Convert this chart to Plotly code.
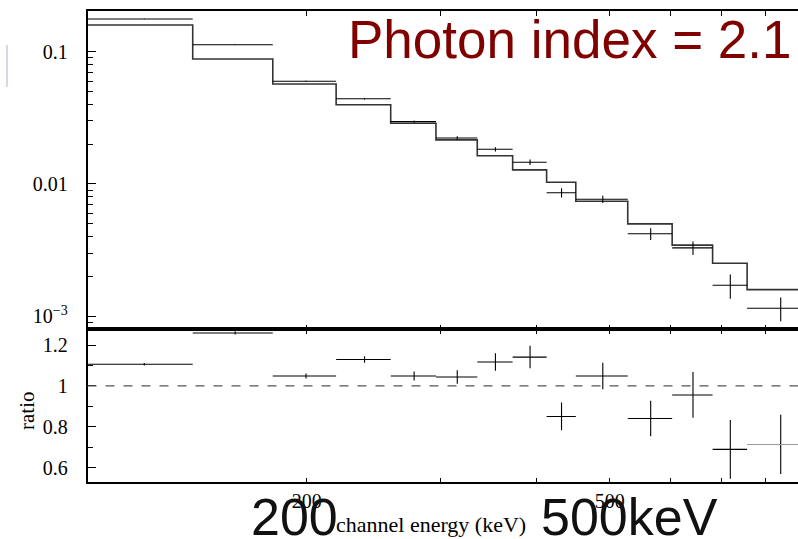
import numpy as np
import plotly.graph_objects as go

# ---------------- data ----------------
bin_lo = [103.1, 141.7, 180.5, 218.6, 257.8, 295.6, 334.9, 372.7, 413.0, 451.1, 527.8, 603.6, 682.1, 757.1]
bin_hi = [141.7, 180.5, 218.6, 257.8, 295.6, 334.9, 372.7, 413.0, 451.1, 527.8, 603.6, 682.1, 757.1, 919.0]
counts = [0.1767, 0.1129, 0.0597, 0.0441, 0.0296, 0.02228, 0.01828, 0.01459, 0.00859, 0.00766, 0.0042, 0.00329, 0.001715, 0.00115]
model = [0.1591, 0.0881, 0.0570, 0.0397, 0.0288, 0.02153, 0.01636, 0.01277, 0.01031, 0.0074, 0.00499, 0.003452, 0.002515, 0.001589]
ratio = [1.106, 1.259, 1.049, 1.129, 1.049, 1.044, 1.117, 1.141, 0.851, 1.049, 0.841, 0.956, 0.690, 0.714]
ratio_err = [0.006, 0.008, 0.012, 0.016, 0.022, 0.033, 0.043, 0.055, 0.068, 0.065, 0.087, 0.112, 0.144, 0.145]

top_tickvals = [0.1, 0.01, 0.001]
top_ticktext = ["0.1", "0.01", "10<sup>−3</sup>"]
top_minor = [k * 10.0 ** d for d in (-4, -3, -2, -1) for k in range(2, 10)]
ratio_tickvals = [0.6, 0.8, 1.0, 1.2]
ratio_ticktext = ["0.6", "0.8", "1", "1.2"]
ratio_minor = [0.7, 0.9, 1.1]
x_tickvals = [200, 300, 400, 500, 600, 700, 800]
x_ticktext = ["200", "", "", "500", "", "", ""]

title_text = "Photon index = 2.1"

# ---------------- derived ----------------
lo = np.array(bin_lo)
hi = np.array(bin_hi)
cen = (lo + hi) / 2
half = (hi - lo) / 2
cts = np.array(counts)
rat = np.array(ratio)
rerr = np.array(ratio_err)
cts_err = cts * rerr / rat

W, H = 798, 539
def px(x):
    return x / W
def py(y):
    return 1 - y / H

SERIF = "Liberation Serif, Times New Roman, serif"
SANS = "Liberation Sans, Arial, sans-serif"

fig = go.Figure()

# model step histogram
fig.add_trace(go.Scatter(
    x=list(lo) + [hi[-1]], y=list(model) + [model[-1]],
    mode="lines", line=dict(shape="hv", color="#333333", width=1.6),
    xaxis="x", yaxis="y", showlegend=False, hoverinfo="skip"))

# data crosses (top)
fig.add_trace(go.Scatter(
    x=cen, y=cts, mode="markers", marker=dict(size=0.1, color="black"),
    error_x=dict(type="data", array=half, width=0, thickness=1.1, color="black"),
    error_y=dict(type="data", array=cts_err, arrayminus=cts_err, width=0, thickness=1.1, color="black"),
    xaxis="x", yaxis="y", showlegend=False))

# ratio crosses
n = len(ratio)
fig.add_trace(go.Scatter(
    x=cen[:n - 1], y=rat[:n - 1], mode="markers", marker=dict(size=0.1, color="black"),
    error_x=dict(type="data", array=half[:n - 1], width=0, thickness=1.1, color="black"),
    error_y=dict(type="data", array=rerr[:n - 1], width=0, thickness=1.1, color="black"),
    xaxis="x2", yaxis="y2", showlegend=False))
fig.add_trace(go.Scatter(
    x=cen[n - 1:], y=rat[n - 1:], mode="markers", marker=dict(size=0.1, color="black"),
    error_x=dict(type="data", array=half[n - 1:], width=0, thickness=1.1, color="#9a9a9a"),
    error_y=dict(type="data", array=rerr[n - 1:], width=0, thickness=1.1, color="black"),
    xaxis="x2", yaxis="y2", showlegend=False))

# invisible traces so that the minor-tick overlay axes are drawn
fig.add_trace(go.Scatter(x=cen[:1], y=cts[:1], mode="markers", marker=dict(size=0.1, opacity=0),
                         xaxis="x", yaxis="y3", showlegend=False, hoverinfo="skip"))
fig.add_trace(go.Scatter(x=cen[:1], y=rat[:1], mode="markers", marker=dict(size=0.1, opacity=0),
                         xaxis="x2", yaxis="y4", showlegend=False, hoverinfo="skip"))

xr = [np.log10(103.1), np.log10(883.0)]
yr_top = [np.log10(7.97e-4), np.log10(0.203)]
yr_bot = [0.529, 1.277]
xdom = [px(87.5), 1.0]
top_dom = [py(329.3), py(11.0)]
bot_dom = [py(482.3), py(329.3)]

axis_common = dict(showgrid=False, zeroline=False, showline=True, linecolor="black",
                   ticks="inside", tickcolor="black")

fig.update_layout(
    width=W, height=H, margin=dict(l=0, r=0, t=0, b=0),
    paper_bgcolor="white", plot_bgcolor="white",
    xaxis=dict(type="log", range=xr, domain=xdom, anchor="y", tickvals=x_tickvals,
               showticklabels=False, ticklen=5, tickwidth=1.2, mirror="ticks", linewidth=1.5,
               **axis_common),
    yaxis=dict(type="log", range=yr_top, domain=top_dom, anchor="x",
               tickmode="array", tickvals=top_tickvals, ticktext=top_ticktext,
               ticklen=9, tickwidth=1.3, linewidth=1.6,
               tickfont=dict(family=SERIF, size=20, color="black"), ticklabelstandoff=14,
               **axis_common),
    yaxis3=dict(type="log", range=yr_top, overlaying="y", anchor="x", side="left",
                tickmode="array", tickvals=top_minor, showticklabels=False,
                ticks="inside", ticklen=5, tickwidth=1.1, tickcolor="black",
                showline=False, showgrid=False, zeroline=False),
    xaxis2=dict(type="log", range=xr, domain=xdom, anchor="y2", tickvals=x_tickvals, ticktext=x_ticktext,
                ticklen=5, tickwidth=1.2, mirror="ticks", linewidth=1.5,
                tickfont=dict(family=SERIF, size=20, color="black"), ticklabelstandoff=0,
                **axis_common),
    yaxis2=dict(range=yr_bot, domain=bot_dom, anchor="x2",
                tickmode="array", tickvals=ratio_tickvals, ticktext=ratio_ticktext,
                ticklen=9, tickwidth=1.3, linewidth=1.6,
                tickfont=dict(family=SERIF, size=20, color="black"), ticklabelstandoff=14,
                **axis_common),
    yaxis4=dict(range=yr_bot, overlaying="y2", anchor="x2", side="left",
                tickmode="array", tickvals=ratio_minor, showticklabels=False,
                ticks="inside", ticklen=5, tickwidth=1.1, tickcolor="black",
                showline=False, showgrid=False, zeroline=False),
)

# dashed reference line at ratio = 1
fig.add_shape(type="line", xref="x2 domain", yref="y2", x0=0, x1=1, y0=1, y1=1,
              line=dict(color="#555555", width=1.3, dash="dash"))

# faint artifact line on the far left
fig.add_shape(type="line", xref="paper", yref="paper", x0=px(7), x1=px(7), y0=py(45), y1=py(87),
              line=dict(color="#d6d6ee", width=2))

# axis titles
fig.add_annotation(text="ratio", xref="paper", yref="paper", x=px(27), y=py(411), textangle=-90,
                   showarrow=False, font=dict(family=SERIF, size=21, color="black"),
                   xanchor="center", yanchor="middle")
fig.add_annotation(text="channel energy (keV)", xref="paper", yref="paper", x=px(431), y=py(524),
                   showarrow=False, font=dict(family=SERIF, size=22, color="black"),
                   xanchor="center", yanchor="middle")

# big overlay texts
fig.add_annotation(text=title_text, xref="paper", yref="paper", x=px(346), y=py(40),
                   showarrow=False, font=dict(family=SANS, size=53, color="#800000"),
                   xanchor="left", yanchor="middle")
fig.add_annotation(text="200", xref="paper", yref="paper", x=px(249), y=py(517),
                   showarrow=False, font=dict(family=SANS, size=52, color="#111111"),
                   xanchor="left", yanchor="middle")
fig.add_annotation(text="500keV", xref="paper", yref="paper", x=px(539), y=py(517),
                   showarrow=False, font=dict(family=SANS, size=52, color="#111111"),
                   xanchor="left", yanchor="middle")

fig.write_html("out.html")
